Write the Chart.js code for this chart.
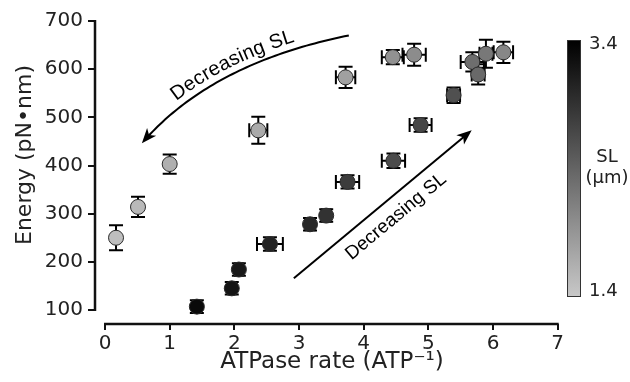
<!DOCTYPE html>
<html>
<head>
<meta charset="utf-8">
<script src="https://cdn.jsdelivr.net/npm/chart.js@4/dist/chart.umd.min.js"></script>
<style>
  html, body { margin: 0; padding: 0; background: #fff; }
  #wrap { width: 630px; height: 382px; position: relative; }
</style>
</head>
<body>
<div id="wrap"><canvas id="chart"></canvas></div>
<script>
// values
const atpaseRate = [0.17, 0.51, 1.00, 2.37, 3.72, 4.45, 4.78, 5.68, 5.89, 6.16, 5.77,
                    1.42, 1.96, 2.07, 2.55, 3.17, 3.42, 3.75, 4.88, 5.39, 4.46];
const energy     = [250, 314, 403, 473, 583, 625, 630, 615, 632, 635, 589,
                    107, 145, 184, 237, 278, 296, 366, 484, 546, 410];
const rateErr    = [0, 0, 0, 0.14, 0.15, 0.17, 0.18, 0.18, 0.10, 0.15, 0.10,
                    0.06, 0.06, 0.06, 0.20, 0.07, 0.07, 0.18, 0.17, 0.10, 0.18];
const energyErr  = [26, 21, 20, 28, 22, 15, 23, 20, 29, 22, 21,
                    13, 13, 13, 14, 13, 13, 14, 14, 16, 15];
const sarcLength = [1.5, 1.55, 1.65, 1.7, 1.8, 1.95, 2.0, 2.3, 2.2, 2.05, 2.35,
                    3.3, 3.2, 3.15, 3.05, 3.0, 2.9, 2.8, 2.7, 2.6, 2.65];

const xTicks = [0, 1, 2, 3, 4, 5, 6, 7];
const yTicks = [100, 200, 300, 400, 500, 600, 700];
const slRange = [1.4, 3.4];
const slLabels = ['1.4', '3.4'];

const TICK_FONT = '"DejaVu Sans", sans-serif';
const NOTE_FONT = '"Liberation Sans", Arial, sans-serif';

function slGray(sl) {
  let f = (slRange[1] - sl) / (slRange[1] - slRange[0]);
  f = Math.max(0, Math.min(1, f));
  let g = Math.round(200 * f);
  return `rgb(${g},${g},${g})`;
}

// annotation arrows, given in data units
const curveArrow = { p0: [3.77, 670], c: [1.63, 612], p2: [0.57, 446] };
const lineArrow = { from: [2.92, 166], to: [5.67, 473] };

function drawHead(ctx, x, y, ang) {
  const len = 15, half = 6;
  ctx.save();
  ctx.translate(x, y);
  ctx.rotate(ang);
  ctx.beginPath();
  ctx.moveTo(0, 0);
  ctx.lineTo(-len, -half);
  ctx.lineTo(-len + 4, 0);
  ctx.lineTo(-len, half);
  ctx.closePath();
  ctx.fill();
  ctx.restore();
}

const figurePlugin = {
  id: 'figure',
  beforeDatasetsDraw(chart) {
    const ctx = chart.ctx, xs = chart.scales.x, ys = chart.scales.y;
    ctx.save();
    ctx.strokeStyle = '#000';
    ctx.lineWidth = 2;
    const cap = 7;
    atpaseRate.forEach((r, i) => {
      const px = xs.getPixelForValue(r), py = ys.getPixelForValue(energy[i]);
      if (energyErr[i] > 0) {
        const y1 = ys.getPixelForValue(energy[i] - energyErr[i]);
        const y2 = ys.getPixelForValue(energy[i] + energyErr[i]);
        ctx.beginPath();
        ctx.moveTo(px, y1); ctx.lineTo(px, y2);
        ctx.moveTo(px - cap, y1); ctx.lineTo(px + cap, y1);
        ctx.moveTo(px - cap, y2); ctx.lineTo(px + cap, y2);
        ctx.stroke();
      }
      if (rateErr[i] > 0) {
        const x1 = xs.getPixelForValue(r - rateErr[i]);
        const x2 = xs.getPixelForValue(r + rateErr[i]);
        ctx.beginPath();
        ctx.moveTo(x1, py); ctx.lineTo(x2, py);
        ctx.moveTo(x1, py - cap); ctx.lineTo(x1, py + cap);
        ctx.moveTo(x2, py - cap); ctx.lineTo(x2, py + cap);
        ctx.stroke();
      }
    });
    ctx.restore();
  },
  afterDraw(chart) {
    const ctx = chart.ctx, xs = chart.scales.x, ys = chart.scales.y;
    const area = chart.chartArea;
    const P = (v) => [xs.getPixelForValue(v[0]), ys.getPixelForValue(v[1])];
    ctx.save();

    // detached spines
    ctx.strokeStyle = '#111';
    ctx.lineWidth = 2.5;
    ctx.beginPath();
    ctx.moveTo(xs.getPixelForValue(xTicks[0]) - 1, area.bottom);
    ctx.lineTo(xs.getPixelForValue(xTicks[xTicks.length - 1]) + 1, area.bottom);
    ctx.moveTo(area.left, ys.getPixelForValue(yTicks[0]) + 1);
    ctx.lineTo(area.left, ys.getPixelForValue(yTicks[yTicks.length - 1]) - 1);
    ctx.stroke();

    // axis titles
    ctx.fillStyle = '#222';
    ctx.font = '23px ' + TICK_FONT;
    ctx.textAlign = 'center';
    ctx.textBaseline = 'middle';
    ctx.fillText('ATPase rate (ATP\u207B\u00B9)', 332, 362);
    ctx.font = '22px ' + TICK_FONT;
    ctx.save();
    ctx.translate(25, 155);
    ctx.rotate(-Math.PI / 2);
    ctx.fillText('Energy (pN\u2022nm)', 0, 0);
    ctx.restore();

    // curved arrow
    ctx.strokeStyle = '#000';
    ctx.fillStyle = '#000';
    ctx.lineWidth = 2;
    const a = P(curveArrow.p0), c = P(curveArrow.c), b = P(curveArrow.p2);
    const bez = (t) => [
      (1 - t) * (1 - t) * a[0] + 2 * t * (1 - t) * c[0] + t * t * b[0],
      (1 - t) * (1 - t) * a[1] + 2 * t * (1 - t) * c[1] + t * t * b[1]
    ];
    const endT = 0.955;
    ctx.beginPath();
    ctx.moveTo(a[0], a[1]);
    for (let i = 1; i <= 60; i++) {
      const q = bez(endT * i / 60);
      ctx.lineTo(q[0], q[1]);
    }
    ctx.stroke();
    drawHead(ctx, b[0], b[1], Math.atan2(b[1] - c[1], b[0] - c[0]));

    // text along the curve (read from lower left to upper right)
    const pts = [], lens = [0];
    for (let i = 0; i <= 200; i++) pts.push(bez(1 - i / 200));
    for (let i = 1; i < pts.length; i++) {
      lens.push(lens[i - 1] + Math.hypot(pts[i][0] - pts[i - 1][0], pts[i][1] - pts[i - 1][1]));
    }
    const total = lens[lens.length - 1];
    const at = (s) => {
      let i = 1;
      while (i < lens.length - 1 && lens[i] < s) i++;
      const f = (s - lens[i - 1]) / (lens[i] - lens[i - 1]);
      const dx = pts[i][0] - pts[i - 1][0], dy = pts[i][1] - pts[i - 1][1];
      return { x: pts[i - 1][0] + f * dx, y: pts[i - 1][1] + f * dy, ang: Math.atan2(dy, dx) };
    };
    const label = 'Decreasing SL';
    ctx.font = '20px ' + NOTE_FONT;
    ctx.textAlign = 'center';
    ctx.textBaseline = 'alphabetic';
    const w = ctx.measureText(label).width;
    let s = total * 0.5 - w / 2;
    for (const ch of label) {
      const cw = ctx.measureText(ch).width;
      const q = at(s + cw / 2);
      const off = 7;
      const nx = Math.sin(q.ang) * off, ny = -Math.cos(q.ang) * off;
      ctx.save();
      ctx.translate(q.x + nx, q.y + ny);
      ctx.rotate(q.ang);
      ctx.fillText(ch, 0, 0);
      ctx.restore();
      s += cw;
    }

    // straight arrow
    const f0 = P(lineArrow.from), f1 = P(lineArrow.to);
    const ang = Math.atan2(f1[1] - f0[1], f1[0] - f0[0]);
    ctx.beginPath();
    ctx.moveTo(f0[0], f0[1]);
    ctx.lineTo(f1[0] - Math.cos(ang) * 10, f1[1] - Math.sin(ang) * 10);
    ctx.stroke();
    drawHead(ctx, f1[0], f1[1], ang);
    const mx = (f0[0] + f1[0]) / 2, my = (f0[1] + f1[1]) / 2;
    ctx.font = '19px ' + NOTE_FONT;
    ctx.save();
    ctx.translate(mx + 3 - Math.sin(ang) * 16, my + Math.cos(ang) * 16);
    ctx.rotate(ang);
    ctx.textBaseline = 'middle';
    ctx.fillText(label, 0, 0);
    ctx.restore();

    // colour bar
    const cbx = 567, cbw = 14, cbTop = 40, cbBot = 297;
    const grad = ctx.createLinearGradient(0, cbTop, 0, cbBot);
    grad.addColorStop(0, slGray(slRange[1]));
    grad.addColorStop(1, slGray(slRange[0]));
    ctx.fillStyle = grad;
    ctx.fillRect(cbx, cbTop, cbw, cbBot - cbTop);
    ctx.strokeStyle = '#333';
    ctx.lineWidth = 1;
    ctx.strokeRect(cbx + 0.5, cbTop + 0.5, cbw - 1, cbBot - cbTop - 1);
    ctx.fillStyle = '#222';
    ctx.font = '18px ' + TICK_FONT;
    ctx.textAlign = 'left';
    ctx.textBaseline = 'middle';
    ctx.fillText(slLabels[1], 589, 44);
    ctx.fillText(slLabels[0], 589, 291);
    ctx.textAlign = 'center';
    ctx.fillText('SL', 607, 157);
    ctx.fillText('(\u00B5m)', 607, 178);

    ctx.restore();
  }
};

new Chart(document.getElementById('chart'), {
  type: 'scatter',
  data: {
    datasets: [{
      data: atpaseRate.map((r, i) => ({ x: r, y: energy[i] })),
      pointRadius: 7.5,
      pointHoverRadius: 7.5,
      pointBackgroundColor: sarcLength.map(slGray),
      pointBorderColor: '#2a2a2a',
      pointBorderWidth: 1
    }]
  },
  options: {
    responsive: true,
    maintainAspectRatio: false,
    animation: false,
    layout: { padding: { top: 21, right: 72.3, left: 0, bottom: 0 } },
    plugins: { legend: { display: false }, tooltip: { enabled: false } },
    scales: {
      x: {
        type: 'linear',
        min: -0.155,
        max: 7,
        afterBuildTicks: (scale) => { scale.ticks = xTicks.map(v => ({ value: v })); },
        afterFit: (scale) => { scale.height = 58; },
        border: { display: false },
        grid: { drawOnChartArea: false, drawTicks: true, tickLength: 6, color: '#111', lineWidth: 2 },
        ticks: { font: { family: TICK_FONT, size: 20 }, color: '#222', padding: 2, maxRotation: 0 }
      },
      y: {
        type: 'linear',
        min: 70.95,
        max: 700,
        afterBuildTicks: (scale) => { scale.ticks = yTicks.map(v => ({ value: v })); },
        afterFit: (scale) => { scale.width = 95; },
        border: { display: false },
        grid: { drawOnChartArea: false, drawTicks: true, tickLength: 7, color: '#111', lineWidth: 2 },
        ticks: { font: { family: TICK_FONT, size: 20 }, color: '#222', padding: 5 }
      }
    }
  },
  plugins: [figurePlugin]
});
</script>
</body>
</html>
